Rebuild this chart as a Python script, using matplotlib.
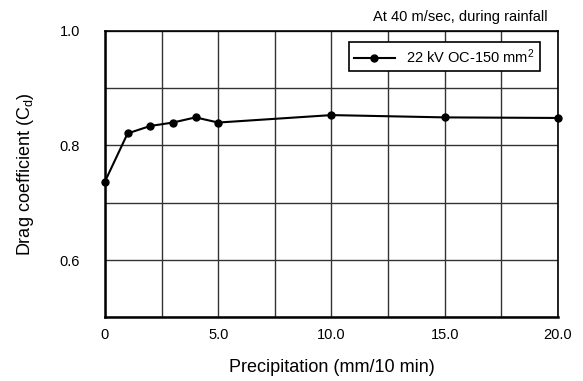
import matplotlib
matplotlib.use("Agg")
import matplotlib.pyplot as plt
from matplotlib.ticker import MultipleLocator, FixedLocator

plt.rcParams["font.family"] = ["Liberation Sans", "DejaVu Sans"]
plt.rcParams["mathtext.fontset"] = "custom"
plt.rcParams["mathtext.rm"] = "Liberation Sans"
plt.rcParams["mathtext.it"] = "Liberation Sans"

# precipitation (mm/10 min) and drag coefficient
precip = [0, 1, 2, 3, 4, 5, 10, 15, 20]
cd = [0.737, 0.821, 0.834, 0.840, 0.849, 0.840, 0.853, 0.849, 0.848]
x_ticks = [0, 5, 10, 15, 20]
x_tick_labels = ["0", "5.0", "10.0", "15.0", "20.0"]
y_ticks = [0.6, 0.8, 1.0]
y_tick_labels = ["0.6", "0.8", "1.0"]

fig = plt.figure(figsize=(5.83, 3.81), dpi=100)
ax = fig.add_axes([0.180, 0.167, 0.777, 0.752])

ax.plot(precip, cd, color="black", linewidth=1.5, marker="o", markersize=5,
        label="22 kV OC-150 mm$^2$", clip_on=False, zorder=3)

ax.set_xlim(0, 20)
ax.set_ylim(0.5, 1.0)
ax.xaxis.set_major_locator(FixedLocator(x_ticks))
ax.set_xticklabels(x_tick_labels)
ax.yaxis.set_major_locator(FixedLocator(y_ticks))
ax.set_yticklabels(y_tick_labels)
ax.xaxis.set_minor_locator(MultipleLocator(2.5))
ax.yaxis.set_minor_locator(MultipleLocator(0.1))
ax.grid(which="both", color="#333333", linewidth=1.0)
ax.tick_params(which="both", length=0)
ax.tick_params(axis="x", pad=8, labelsize=10.5)
ax.tick_params(axis="y", pad=18, labelsize=10.5)

for side in ("left", "bottom"):
    ax.spines[side].set_linewidth(1.8)
for side in ("top", "right"):
    ax.spines[side].set_linewidth(1.2)

ax.set_xlabel("Precipitation (mm/10 min)", fontsize=13, labelpad=12)
ax.set_ylabel("Drag coefficient (C$_\\mathregular{d}$)", fontsize=13, labelpad=17)

fig.text(0.94, 0.955, "At 40 m/sec, during rainfall", ha="right", va="center", fontsize=10.5)

leg = ax.legend(loc="upper right", bbox_to_anchor=(0.976, 0.985), fancybox=False,
                edgecolor="black", framealpha=1, fontsize=10.5, handlelength=2.8,
                borderpad=0.35)
leg.get_frame().set_linewidth(1.2)

fig.savefig("out.png", dpi=100)
